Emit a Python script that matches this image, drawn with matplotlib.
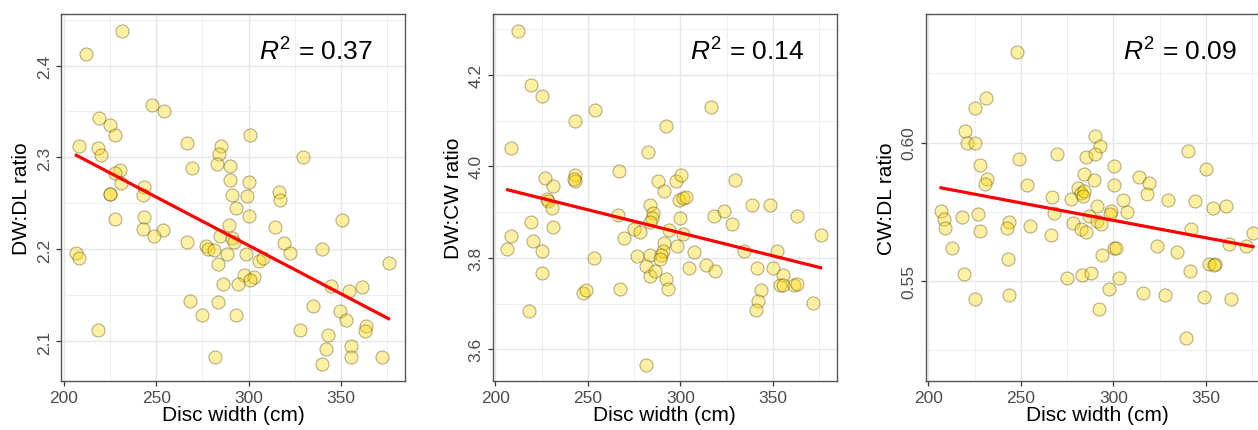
import matplotlib

matplotlib.use("Agg")
import matplotlib.pyplot as plt
import numpy as np
from matplotlib.ticker import MultipleLocator, FormatStrFormatter

plt.rcParams["font.family"] = ["Liberation Sans", "DejaVu Sans"]
plt.rcParams["mathtext.fontset"] = "custom"
plt.rcParams["mathtext.rm"] = "Liberation Sans"
plt.rcParams["mathtext.it"] = "Liberation Sans:italic"

# ---- data ----
dw_x1 = [231.5, 212.2, 247.7, 254.0, 219.3, 225.2, 227.6, 208.5, 218.7, 220.3,
         266.8, 284.8, 284.1, 282.8, 300.5, 269.3, 290.0, 329.5, 230.3, 227.6,
         231.0, 225.2, 225.2, 243.2, 242.7, 290.0, 291.1, 300.1, 299.0, 293.1,
         316.3, 317.1, 300.3, 227.6, 243.6, 242.7, 253.5, 249.0, 314.2, 350.4,
         266.6, 289.3, 284.3, 291.1, 291.8, 319.2, 276.9, 278.2, 281.0, 288.2,
         298.3, 322.5, 339.5, 206.8, 208.5, 305.4, 307.7, 375.6, 283.6, 297.2,
         303.0, 300.8, 286.1, 294.0, 344.4, 354.3, 361.0, 268.1, 283.2, 274.9,
         293.3, 335.0, 349.1, 352.4, 363.3, 362.8, 218.4, 327.9, 342.6, 341.9,
         355.2, 355.2, 281.9, 372.0, 339.6]
dw_dl = [2.437, 2.413, 2.357, 2.351, 2.343, 2.335, 2.324, 2.313, 2.310, 2.303,
         2.316, 2.313, 2.304, 2.293, 2.324, 2.289, 2.291, 2.300, 2.286, 2.283,
         2.272, 2.260, 2.260, 2.268, 2.259, 2.275, 2.259, 2.273, 2.258, 2.245,
         2.263, 2.254, 2.236, 2.233, 2.235, 2.222, 2.221, 2.215, 2.224, 2.232,
         2.208, 2.227, 2.215, 2.212, 2.208, 2.207, 2.204, 2.201, 2.199, 2.195,
         2.195, 2.196, 2.200, 2.196, 2.191, 2.188, 2.191, 2.185, 2.184, 2.172,
         2.170, 2.167, 2.163, 2.162, 2.160, 2.155, 2.159, 2.144, 2.143, 2.129,
         2.129, 2.139, 2.133, 2.123, 2.117, 2.111, 2.112, 2.112, 2.107, 2.092,
         2.095, 2.083, 2.083, 2.083, 2.075]

dw_x2 = [212.4, 219.0, 225.3, 254.0, 243.2, 292.4, 316.3, 208.4, 282.7, 266.8,
         243.1, 243.1, 242.5, 226.9, 231.2, 287.9, 291.3, 297.8, 300.5, 329.6,
         227.6, 228.5, 230.3, 231.2, 206.5, 208.4, 219.2, 220.5, 225.3, 225.1,
         218.1, 253.1, 247.2, 248.8, 267.5, 266.2, 269.4, 274.8, 277.9, 283.8,
         285.1, 284.5, 283.3, 276.6, 283.3, 281.5, 283.3, 286.1, 291.2, 290.4,
         289.7, 289.2, 292.4, 293.1, 293.8, 298.1, 299.8, 301.2, 299.0, 301.2,
         303.2, 307.3, 304.8, 313.8, 318.8, 318.4, 323.3, 327.8, 334.4, 338.9,
         348.4, 341.4, 350.2, 352.2, 355.2, 354.0, 355.4, 343.7, 342.0, 340.7,
         361.3, 363.1, 363.1, 371.7, 375.8, 281.6]
dw_cw = [4.296, 4.178, 4.154, 4.124, 4.099, 4.089, 4.130, 4.040, 4.032, 3.989,
         3.981, 3.968, 3.972, 3.975, 3.957, 3.967, 3.946, 3.967, 3.981, 3.970,
         3.928, 3.924, 3.908, 3.868, 3.819, 3.847, 3.879, 3.838, 3.814, 3.766,
         3.683, 3.800, 3.724, 3.730, 3.731, 3.894, 3.844, 3.863, 3.857, 3.915,
         3.899, 3.888, 3.879, 3.804, 3.806, 3.782, 3.760, 3.771, 3.833, 3.815,
         3.806, 3.797, 3.753, 3.733, 3.862, 3.826, 3.888, 3.853, 3.927, 3.930,
         3.934, 3.812, 3.779, 3.785, 3.771, 3.892, 3.902, 3.873, 3.814, 3.916,
         3.916, 3.779, 3.779, 3.816, 3.763, 3.741, 3.741, 3.729, 3.705, 3.686,
         3.741, 3.744, 3.892, 3.702, 3.850, 3.567]

dw_x3 = [247.7, 231.2, 225.1, 219.6, 220.6, 225.1, 227.6, 231.4, 230.5, 249.0,
         253.1, 269.4, 266.8, 268.0, 266.0, 254.9, 206.8, 208.6, 209.2, 218.3,
         226.9, 227.8, 212.6, 219.2, 225.1, 243.4, 242.7, 243.1, 243.6, 276.8,
         281.1, 282.2, 284.0, 283.6, 284.3, 285.0, 290.1, 292.9, 290.3, 289.4,
         291.3, 286.7, 291.2, 293.5, 278.1, 282.6, 285.4, 300.1, 300.1, 298.7,
         298.3, 305.0, 307.3, 313.9, 319.1, 318.2, 329.7, 300.1, 301.2, 294.0,
         323.5, 334.6, 340.5, 350.2, 344.1, 354.0, 360.8, 342.1, 362.4, 371.5,
         375.5, 351.8, 355.0, 354.6, 341.4, 275.0, 282.9, 288.1, 303.0, 297.6,
         316.1, 327.8, 348.9, 363.5, 292.2, 339.4]
cw_dl = [0.6328, 0.6160, 0.6123, 0.6041, 0.6000, 0.5999, 0.5918, 0.5870, 0.5852, 0.5940,
         0.5847, 0.5957, 0.5805, 0.5747, 0.5667, 0.5700, 0.5751, 0.5723, 0.5693, 0.5731,
         0.5743, 0.5682, 0.5618, 0.5524, 0.5435, 0.5713, 0.5692, 0.5581, 0.5449, 0.5795,
         0.5836, 0.5819, 0.5825, 0.5806, 0.5886, 0.5948, 0.6023, 0.5988, 0.5960, 0.5864,
         0.5771, 0.5733, 0.5717, 0.5705, 0.5708, 0.5687, 0.5677, 0.5914, 0.5846, 0.5753,
         0.5741, 0.5792, 0.5749, 0.5876, 0.5855, 0.5813, 0.5792, 0.5618, 0.5620, 0.5594,
         0.5625, 0.5605, 0.5970, 0.5905, 0.5790, 0.5764, 0.5771, 0.5687, 0.5635, 0.5627,
         0.5675, 0.5560, 0.5563, 0.5558, 0.5536, 0.5511, 0.5523, 0.5528, 0.5512, 0.5472,
         0.5455, 0.5449, 0.5442, 0.5434, 0.5398, 0.5296]

r2_labels = ["0.37", "0.14", "0.09"]
y_titles = ["DW:DL ratio", "DW:CW ratio", "CW:DL ratio"]

W, H = 1258, 431
fig = plt.figure(figsize=(W / 100, H / 100), dpi=100)

# third panel runs past the right edge, as in the original crop
panels = [
    dict(x=dw_x1, y=dw_dl, left=61, ylim=(2.057, 2.456), major=0.1, fmt="%.1f"),
    dict(x=dw_x2, y=dw_cw, left=492.7, ylim=(3.531, 4.333), major=0.2, fmt="%.1f"),
    dict(x=dw_x3, y=cw_dl, left=925.7, ylim=(0.5139, 0.6464), major=0.05, fmt="%.2f"),
]

for i, p in enumerate(panels):
    ax = fig.add_axes([p["left"] / W, (H - 382) / H, 344 / W, 367 / H])
    x = np.array(p["x"])
    y = np.array(p["y"])

    ax.scatter(x, y, s=88, facecolor=(1.0, 0.843, 0.0, 0.36),
               edgecolor=(0.25, 0.22, 0.0, 0.38), linewidth=0.8, zorder=3)

    slope, icpt = np.polyfit(x, y, 1)
    xs = np.array([x.min(), x.max()])
    ax.plot(xs, icpt + slope * xs, color="#FF0000", lw=2.3, zorder=4)

    ax.set_xlim(198.5, 384.5)
    ax.set_ylim(*p["ylim"])
    ax.xaxis.set_major_locator(MultipleLocator(50))
    ax.xaxis.set_minor_locator(MultipleLocator(25))
    ax.yaxis.set_major_locator(MultipleLocator(p["major"]))
    ax.yaxis.set_minor_locator(MultipleLocator(p["major"] / 2))
    ax.yaxis.set_major_formatter(FormatStrFormatter(p["fmt"]))

    ax.grid(which="major", color="#E6E6E6", lw=1.0, zorder=0)
    ax.grid(which="minor", color="#EDEDED", lw=0.6, zorder=0)
    ax.set_axisbelow(True)
    for s in ax.spines.values():
        s.set_color("#555555")
        s.set_linewidth(1.0)

    ax.tick_params(which="major", length=3.5, width=0.9, color="#333333",
                   labelsize=12.5, labelcolor="#4D4D4D", pad=3)
    ax.tick_params(which="minor", length=0)
    for lab in ax.get_yticklabels():
        lab.set_rotation(90)
        lab.set_va("center")

    ax.set_xlabel("Disc width (cm)", fontsize=15, labelpad=0)
    ax.set_ylabel(y_titles[i], fontsize=15, labelpad=4)

    ax.text(0.74, 0.9, r"$R^2$ = " + r2_labels[i], transform=ax.transAxes,
            fontsize=19, ha="center", va="center")

fig.savefig("out.png", dpi=100)
